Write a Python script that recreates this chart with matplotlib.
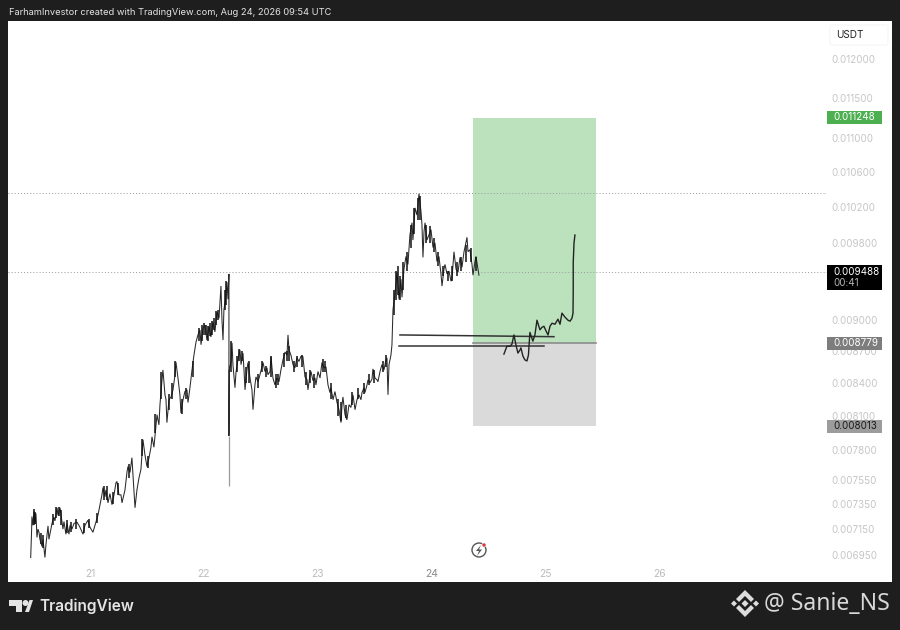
import matplotlib
matplotlib.use('Agg')
import matplotlib.pyplot as plt
from matplotlib.patches import Rectangle, Polygon, FancyBboxPatch, Circle
from matplotlib.transforms import Affine2D
from matplotlib.ticker import NullLocator

plt.rcParams['font.family'] = ['Inter', 'DejaVu Sans']

# candle path: day of month, price in USDT
price_days = [
    20.480, 20.487, 20.491, 20.500, 20.509, 20.518, 20.526, 20.535, 20.544, 20.553, 20.561, 20.579,
    20.588, 20.605, 20.614, 20.632, 20.640, 20.649, 20.667, 20.684, 20.693, 20.711, 20.719, 20.737,
    20.746, 20.763, 20.772, 20.789, 20.798, 20.816, 20.825, 20.842, 20.860, 20.886, 20.912, 20.939,
    20.956, 20.982, 21.000, 21.026, 21.044, 21.070, 21.088, 21.105, 21.114, 21.132, 21.140, 21.158,
    21.175, 21.193, 21.211, 21.228, 21.237, 21.254, 21.272, 21.281, 21.307, 21.325, 21.333, 21.351,
    21.368, 21.377, 21.395, 21.412, 21.430, 21.447, 21.465, 21.482, 21.500, 21.518, 21.535, 21.544,
    21.561, 21.579, 21.588, 21.605, 21.614, 21.632, 21.640, 21.658, 21.667, 21.675, 21.693, 21.711,
    21.728, 21.746, 21.754, 21.772, 21.789, 21.798, 21.816, 21.833, 21.851, 21.860, 21.877, 21.895,
    21.912, 21.930, 21.947, 21.965, 21.974, 21.991, 22.009, 22.026, 22.044, 22.061, 22.079, 22.096,
    22.114, 22.132, 22.149, 22.158, 22.167, 22.175, 22.193, 22.202, 22.211, 22.219, 22.219, 22.222,
    22.237, 22.246, 22.254, 22.272, 22.281, 22.298, 22.316, 22.325, 22.342, 22.351, 22.360, 22.377,
    22.386, 22.404, 22.421, 22.430, 22.447, 22.456, 22.474, 22.491, 22.518, 22.535, 22.553, 22.561,
    22.579, 22.588, 22.605, 22.623, 22.640, 22.658, 22.675, 22.693, 22.711, 22.728, 22.737, 22.746,
    22.763, 22.781, 22.798, 22.816, 22.833, 22.851, 22.868, 22.886, 22.904, 22.912, 22.930, 22.939,
    22.956, 22.974, 22.982, 23.000, 23.018, 23.035, 23.053, 23.070, 23.088, 23.105, 23.114, 23.132,
    23.149, 23.167, 23.184, 23.193, 23.202, 23.211, 23.219, 23.237, 23.254, 23.272, 23.289, 23.307,
    23.325, 23.342, 23.360, 23.377, 23.386, 23.404, 23.412, 23.430, 23.439, 23.456, 23.474, 23.482,
    23.500, 23.518, 23.526, 23.544, 23.561, 23.579, 23.596, 23.605, 23.614, 23.623, 23.640, 23.649,
    23.658, 23.675, 23.693, 23.711, 23.728, 23.737, 23.754, 23.772, 23.789, 23.807, 23.825, 23.833,
    23.851, 23.868, 23.886, 23.904, 23.912, 23.921, 23.930, 23.939, 23.956, 23.974, 23.991, 24.009,
    24.026, 24.044, 24.061, 24.079, 24.088, 24.105, 24.114, 24.132, 24.149, 24.167, 24.175, 24.193,
    24.211, 24.228, 24.246, 24.263, 24.281, 24.289, 24.307, 24.316, 24.333, 24.351, 24.360, 24.377,
    24.386, 24.404, 24.412,
]
price_values = [
    .006930, .007110, .007250, .007180, .007290, .007195, .007275, .007085, .007150, .007125, .007070, .007015,
    .007070, .006930, .007030, .007175, .007070, .007110, .007195, .007245, .007215, .007320, .007260, .007320,
    .007265, .007150, .007210, .007110, .007195, .007110, .007180, .007150, .007195, .007205, .007165, .007110,
    .007180, .007220, .007165, .007125, .007180, .007260, .007345, .007425, .007485, .007410, .007465, .007360,
    .007435, .007345, .007425, .007525, .007535, .007425, .007425, .007360, .007465, .007615, .007660, .007610,
    .007735, .007590, .007320, .007465, .007565, .007635, .007890, .007760, .007660, .007735, .007825, .007915,
    .007825, .008020, .008110, .008020, .008200, .008430, .008520, .008290, .008245, .008040, .008245, .008270,
    .008335, .008475, .008595, .008445, .008290, .008125, .008245, .008320, .008335, .008220, .008355, .008520,
    .008660, .008785, .008855, .008903, .008760, .008920, .008950, .008805, .008940, .008835, .008980, .008885,
    .009080, .009020, .009345, .009000, .008805, .009105, .009240, .009385, .009210, .009470, .007923, .008520,
    .008595, .008777, .008570, .008355, .008500, .008615, .008710, .008570, .008680, .008520, .008335, .008520,
    .008590, .008445, .008335, .008155, .008380, .008455, .008410, .008475, .008590, .008505, .008540, .008475,
    .008505, .008645, .008445, .008380, .008445, .008410, .008520, .008615, .008690, .008660, .008855, .008710,
    .008660, .008570, .008540, .008635, .008600, .008650, .008645, .008455, .008430, .008335, .008475, .008505,
    .008420, .008445, .008380, .008505, .008445, .008590, .008540, .008550, .008380, .008310, .008355, .008245,
    .008320, .008220, .008155, .008100, .008040, .008200, .008270, .008110, .008065, .008200, .008175, .008290,
    .008155, .008245, .008290, .008245, .008310, .008355, .008310, .008380, .008428, .008400, .008435, .008530,
    .008445, .008428, .008410, .008505, .008570, .008520, .008615, .008635, .008290, .008570, .008660, .008760,
    .009105, .009260, .009488, .009210, .009416, .009230, .009520, .009655, .009570, .009890, .010020, .009830,
    .010185, .010105, .010345, .010140, .010000, .009645, .009920, .010020, .009830, .009890, .009945, .009750,
    .009800, .009600, .009655, .009470, .009345, .009520, .009570, .009470, .009500, .009395, .009416, .009705,
    .009520, .009488, .009645, .009540, .009705, .009750, .009860, .009705, .009727, .009570, .009457, .009600,
    .009655, .009520, .009457,
]

# thick clusters of candles, day and low/high of each cluster
cluster_days = [
    20.505, 20.520, 20.570, 20.590, 20.675, 20.700, 20.725, 20.750, 20.800, 20.830, 20.875, 20.950, 20.990,
    21.060, 21.125, 21.150, 21.200, 21.245, 21.340, 21.460, 21.510, 21.570, 21.625, 21.690, 21.720, 21.750,
    21.810, 21.840, 21.900, 21.955, 21.985, 22.000, 22.015, 22.035, 22.050, 22.070, 22.090, 22.105, 22.120,
    22.185, 22.195, 22.240, 22.290, 22.310, 22.335, 22.370, 22.395, 22.470, 22.510, 22.545, 22.590, 22.630,
    22.650, 22.700, 22.725, 22.745, 22.790, 22.820, 22.860, 22.895, 22.930, 22.965, 23.040, 23.060, 23.110,
    23.180, 23.200, 23.245, 23.300, 23.350, 23.400, 23.450, 23.490, 23.570, 23.600, 23.665, 23.685, 23.700,
    23.720, 23.745, 23.780, 23.815, 23.845, 23.875, 23.895, 23.950, 23.985, 24.020, 24.050, 24.100, 24.140,
    24.180, 24.220, 24.255, 24.295, 24.340, 24.390,
]
cluster_lows = [
    .00718, .00719, .00703, .00700, .00718, .00724, .00725, .00718, .00712, .00713, .00715, .00712, .00716,
    .00720, .00738, .00738, .00735, .00742, .00756, .00775, .00765, .00795, .00825, .00815, .00825, .00845,
    .00812, .00825, .00845, .00880, .00880, .00885, .00885, .00880, .00884, .00885, .00890, .00895, .00900,
    .00910, .00915, .00850, .00850, .00860, .00860, .00840, .00840, .00835, .00850, .00845, .00845, .00835,
    .00838, .00855, .00860, .00860, .00850, .00855, .00855, .00838, .00840, .00835, .00850, .00850, .00825,
    .00810, .00805, .00808, .00820, .00825, .00830, .00838, .00840, .00850, .00855, .00905, .00920, .00925,
    .00920, .00930, .00950, .00975, .00990, .01005, .01005, .00980, .00980, .00970, .00955, .00945, .00940,
    .00940, .00945, .00950, .00960, .00960, .00950,
]
cluster_highs = [
    .00731, .00729, .00712, .00710, .00727, .00733, .00733, .00730, .00722, .00721, .00723, .00720, .00723,
    .00728, .00750, .00750, .00745, .00752, .00768, .00790, .00775, .00812, .00850, .00830, .00840, .00860,
    .00825, .00835, .00860, .00892, .00895, .00897, .00895, .00894, .00897, .00899, .00902, .00909, .00910,
    .00930, .00940, .00880, .00865, .00872, .00870, .00855, .00860, .00848, .00860, .00856, .00865, .00848,
    .00848, .00868, .00870, .00875, .00860, .00865, .00866, .00850, .00852, .00848, .00862, .00860, .00840,
    .00825, .00822, .00820, .00832, .00835, .00840, .00848, .00852, .00860, .00866, .00930, .00950, .00955,
    .00945, .00960, .00970, .01000, .01018, .01030, .01032, .01000, .00998, .00985, .00970, .00955, .00950,
    .00955, .00960, .00965, .00978, .00975, .00965,
]

# long lower wick of the 22nd
spike_day = 22.219
spike_low, spike_high = 0.0075, 0.007923

# hand drawn projection on top of the chart
sketch_days = [
    24.631, 24.657, 24.684, 24.701, 24.719, 24.737, 24.754, 24.772, 24.780, 24.798, 24.815, 24.833,
    24.846, 24.859, 24.885, 24.903, 24.921, 24.947, 24.965, 24.982, 25.000, 25.018, 25.035, 25.053,
    25.079, 25.105, 25.123, 25.140, 25.167, 25.193, 25.211, 25.228, 25.237, 25.239, 25.239, 25.246, 25.254,
]
sketch_values = [
    .008670, .008745, .008745, .008765, .008855, .008755, .008680, .008710, .008730, .008650, .008615, .008605,
    .008660, .008880, .008795, .008855, .009000, .008905, .008930, .008940, .008895, .008855, .008940, .008970,
    .008960, .009010, .008960, .009070, .009030, .009000, .008990, .009020, .009070, .009300, .009590, .009800, .009885,
]
level_a_days = [23.719, 25.070]
level_a_values = [.008855, .008838]
level_b_days = [23.711, 24.982]
level_b_values = [.008745, .008745]

# long position tool
position_start, position_end = 24.360, 25.439
target_price, entry_price, stop_price = 0.011248, 0.008779, 0.008013
last_price = 0.009488
upper_level = 0.010354

y_ticks = [0.012, 0.0115, 0.011, 0.0106, 0.0102, 0.0098, 0.009, 0.0087, 0.0084, 0.0081, 0.0078, 0.00755, 0.00735, 0.00715, 0.00695]
x_ticks = [21, 22, 23, 24, 25, 26]

W, H = 900, 630
px = Affine2D().scale(1, -1).translate(0, H)  # figure pixels, origin top left

fig = plt.figure(figsize=(W / 100, H / 100), dpi=100, facecolor='#1e1e1e')


def rect(x0, y0, x1, y1, color, z=1):
    fig.add_artist(Rectangle((x0, y0), x1 - x0, y1 - y0, transform=px, fc=color, ec='none', zorder=z))


def poly(points, color, z=2):
    fig.add_artist(Polygon(points, closed=True, transform=px, fc=color, ec='none', zorder=z))


rect(8, 21, 892, 582, 'white', z=-1)

ax = fig.add_axes([8 / W, 1 - 563 / H, (827 - 8) / W, (563 - 21) / H])
ax.patch.set_visible(False)
ax.set_yscale('log')
ax.set_xlim(20.281, 27.465)
ax.set_ylim(0.006888, 0.012513)
for s in ax.spines.values():
    s.set_visible(False)

ax.yaxis.tick_right()
ax.set_yticks(y_ticks)
ax.set_yticklabels([f'{t:.6f}' for t in y_ticks])
ax.yaxis.set_minor_locator(NullLocator())
ax.set_xticks(x_ticks)
ax.set_xticklabels([str(t) for t in x_ticks])
ax.tick_params(axis='y', length=0, pad=3.5, labelsize=7.1, labelcolor='#c6c6c6')
ax.tick_params(axis='x', length=0, pad=4, labelsize=7.4, labelcolor='#bcbcbc')
ax.get_xticklabels()[3].set_color('#8a8a8a')

# position zones
ax.fill_between([position_start, position_end], entry_price, target_price, color='#bbe1bd', lw=0, zorder=1)
ax.fill_between([position_start, position_end], stop_price, entry_price, color='#dadada', lw=0, zorder=1)
ax.plot([position_start, position_end], [entry_price, entry_price], color='#8c8c8c', lw=1.2, zorder=2)

ax.axhline(upper_level, color='#9a9a9a', lw=0.7, ls=(0, (1, 2.2)), zorder=2)
ax.axhline(last_price, color='#9a9a9a', lw=0.7, ls=(0, (1, 2.2)), zorder=2)

ax.plot(price_days, price_values, color='#2a2a2a', lw=0.75, solid_joinstyle='miter', zorder=3)
ax.vlines(cluster_days, cluster_lows, cluster_highs, color='#111111', lw=1.1, zorder=3)
ax.vlines([spike_day], [spike_low], [spike_high], color='#9a9a9a', lw=0.9, zorder=3)
ax.plot(level_a_days, level_a_values, color='#333333', lw=1.1, zorder=4)
ax.plot(level_b_days, level_b_values, color='#333333', lw=1.1, zorder=4)
ax.plot(sketch_days, sketch_values, color='#222222', lw=1.0, solid_joinstyle='round', zorder=5)

# header
fig.text(9 / W, 1 - 12.5 / H, 'FarhamInvestor created with TradingView.com, Aug 24, 2026 09:54 UTC',
         color='#e4e4e4', fontsize=6.68, va='center', ha='left')

# currency box
fig.add_artist(FancyBboxPatch((830, 25), 58, 20, boxstyle='round,pad=0,rounding_size=2', transform=px,
                              fc='white', ec='#f6f6f6', lw=0.8, zorder=1))
fig.text(836 / W, 1 - 35 / H, 'USDT', color='#222222', fontsize=7.2, va='center', ha='left', zorder=2)

# price tags
tags = [
    (111, 124, '#4caf50', f'{target_price:.6f}', 'white'),
    (336.5, 349.5, '#7d7d7d', f'{entry_price:.6f}', 'white'),
    (419.5, 432.5, '#9c9c9c', f'{stop_price:.6f}', '#1a1a1a'),
]
for top, bottom, fill, label, text_color in tags:
    rect(827, top, 881.5, bottom, fill, z=1)
    fig.text(833 / W, 1 - (top + bottom) / 2 / H, label, color=text_color, fontsize=7.1,
             va='center', ha='left', zorder=2)
rect(827, 265, 881.5, 290, 'black', z=1)
fig.text(833 / W, 1 - 272 / H, f'{last_price:.6f}', color='white', fontsize=7.1, va='center', ha='left', zorder=2)
fig.text(833 / W, 1 - 283.5 / H, '00:41', color='#b5b5b5', fontsize=7.1, va='center', ha='left', zorder=2)

# lightning badge
fig.add_artist(Circle((479, 550), 7, transform=px, fc='none', ec='#555555', lw=1.0, zorder=2))
poly([(481, 545), (476, 551), (479, 551), (477, 556), (482, 549.5), (479, 549.5)], '#555555')
fig.add_artist(Circle((484, 545), 2, transform=px, fc='#d8343f', ec='white', lw=0.4, zorder=3))

# TradingView mark
poly([(9, 600), (22, 600), (22, 612), (16, 612), (16, 606), (9, 606)], '#e4e4e4')
fig.add_artist(Circle((25.5, 603), 3, transform=px, fc='#e4e4e4', ec='none', zorder=2))
poly([(25, 612), (29.5, 600), (33, 600), (29, 612)], '#e4e4e4')
fig.text(39 / W, 1 - 606 / H, 'TradingView', color='#e4e4e4', fontsize=11.1, fontweight='semibold',
         va='center', ha='left')

# watermark diamond mark
poly([(745, 590), (754, 599), (751, 602), (745, 596), (739, 602), (736, 599)], '#dddddd')
poly([(745, 617), (754, 608), (751, 605), (745, 611), (739, 605), (736, 608)], '#dddddd')
poly([(745, 600), (748.5, 603.5), (745, 607), (741.5, 603.5)], '#dddddd')
poly([(734, 600.5), (737, 603.5), (734, 606.5), (731, 603.5)], '#dddddd')
poly([(756, 600.5), (759, 603.5), (756, 606.5), (753, 603.5)], '#dddddd')
fig.text(764 / W, 1 - 604 / H, '@ Sanie_NS', color='#d8d8d8', fontsize=16.6, va='center', ha='left',
         family=['Noto Sans', 'DejaVu Sans'])

fig.savefig('out.png', dpi=100, facecolor=fig.get_facecolor())
